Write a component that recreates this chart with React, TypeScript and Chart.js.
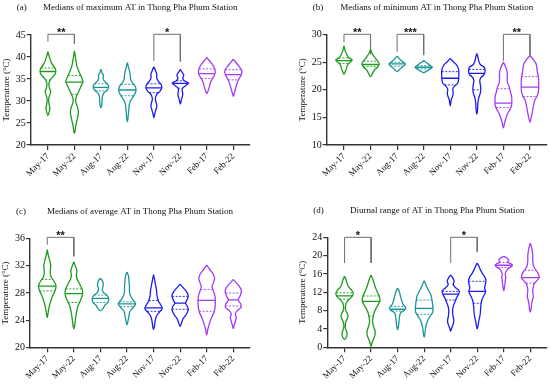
import React, { useEffect, useRef } from 'react';
import { Chart, registerables } from 'chart.js';

Chart.register(...registerables);

const categories = ['May-17', 'May-22', 'Aug-17', 'Aug-22', 'Nov-17', 'Nov-22', 'Feb-17', 'Feb-22'];
const violinColors = ['#1f9a1f', '#1f9a1f', '#1a9696', '#1a9696', '#1c1cf2', '#1c1cf2', '#a33cf7', '#a33cf7'];
const yAxisTitle = 'Temperature (°C)';

// ---- Panel (a): medians of maximum AT ----
const maxLabel = '(a)';
const maxTitle = 'Medians of maximum AT in Thong Pha Phum Station';
const maxYTicks = [20, 25, 30, 35, 40, 45];
// density profiles: [temperature, relative density], top to bottom
const maxShapes = [
  [[41.2, 0], [40, 1.5], [38.5, 4], [37.3, 7.5], [36.7, 8], [36, 7], [35, 3], [34, 1], [33, 1.5], [32.2, 2.8], [31.5, 2], [30.5, 0.8], [29.5, 1], [28.3, 2], [27.5, 1.2], [26.7, 0]],
  [[41.4, 0], [40, 1], [38, 2.5], [36.5, 5], [35, 8], [34.4, 8.7], [33.5, 7], [32, 4], [31, 2], [30, 1.2], [29, 2.5], [28, 3.8], [27.2, 4], [26, 3], [24.5, 1.5], [23, 0.5], [22.7, 0]],
  [[37.2, 0], [36.5, 1], [35.8, 2.5], [35.2, 2.2], [34.5, 3.5], [33.8, 7], [33.2, 7.8], [32.5, 6.5], [31.8, 3], [31, 1.5], [30, 1.2], [29, 0.8], [28.5, 0]],
  [[38.7, 0], [37.8, 1], [36.8, 2.2], [35.8, 3], [35, 3.2], [34.2, 5], [33.3, 8], [32.5, 8.8], [31.8, 8], [31, 6], [30, 3], [29, 1.8], [28, 1.5], [27, 1], [26, 0.6], [25.3, 0]],
  [[37.8, 0], [37, 1.5], [36, 3], [35.3, 2.8], [34.5, 4.5], [33.7, 7.5], [33, 8], [32.3, 6.5], [31.5, 3], [30.5, 1.5], [29.5, 2.5], [28.8, 3], [28, 2], [27, 0.8], [26.2, 0]],
  [[37.2, 0], [36.6, 1.5], [35.9, 3.5], [35.2, 2.5], [34.6, 4], [34.1, 8.3], [33.6, 6], [33, 2.5], [32.4, 1.8], [31.7, 2.5], [31, 2], [30.2, 1], [29.3, 0]],
  [[39.9, 0], [39.3, 2], [38.5, 5], [37.6, 7.5], [36.8, 8.5], [36, 8], [35.2, 6], [34.4, 4], [33.6, 3], [32.8, 2], [32, 0.8], [31.7, 0]],
  [[39.5, 0], [38.8, 2.5], [37.8, 6], [37, 8.5], [36.3, 8.5], [35.5, 7], [34.7, 5], [33.8, 3.5], [33, 2.5], [32, 1.2], [31, 0]],
];
// [Q1, median, Q3]
const maxStats = [
  [34.8, 36.7, 37.5], [31.5, 34.3, 35.8], [32.3, 33.1, 33.9], [31.2, 32.5, 33.8],
  [31.9, 33.0, 33.9], [32.9, 34.0, 34.6], [35.1, 36.2, 37.3], [34.8, 36.0, 37.1],
];
// [from, to, top, left leg end, right leg end, stars]
const maxBrackets = [
  [0, 1, 45.16, 43.5, 43.0, '**'],
  [4, 5, 45.16, 39.1, 39.0, '*'],
];

// ---- Panel (b): medians of minimum AT ----
const minLabel = '(b)';
const minTitle = 'Medians of minimum AT in Thong Pha Phum Station';
const minYTicks = [10, 15, 20, 25, 30];
const minShapes = [
  [[28.0, 0], [27.2, 1], [26.5, 2.5], [25.9, 4.5], [25.4, 8.3], [25.0, 6], [24.5, 3.5], [23.8, 2.5], [23.2, 1], [22.8, 0]],
  [[27.4, 0], [26.8, 1], [26.2, 3], [25.6, 5.5], [25.0, 8], [24.6, 8.7], [24.1, 7], [23.6, 4], [23.0, 2], [22.4, 0]],
  [[26.1, 0], [25.6, 2.5], [25.1, 5.5], [24.7, 8.3], [24.3, 6.5], [23.8, 3], [23.3, 0]],
  [[25.3, 0], [24.9, 3], [24.5, 6], [24.1, 8.7], [23.7, 6], [23.4, 3], [23.1, 0]],
  [[25.7, 0], [25.2, 2.5], [24.6, 6], [23.8, 8.3], [23, 8.7], [22, 8.5], [21.2, 7.5], [20.6, 4], [20.1, 2.5], [19.5, 3], [18.9, 2.5], [18.2, 1], [17.1, 0]],
  [[26.6, 0], [26, 1], [25.2, 2], [24.6, 3.5], [24.1, 7.5], [23.5, 8.3], [22.8, 7.5], [22.2, 4], [21.6, 3], [21, 3.5], [20.2, 4], [19.4, 3.5], [18.6, 2], [17.5, 1], [16.5, 0.8], [15.6, 0]],
  [[25.0, 0], [24.3, 2], [23.5, 3.5], [22.7, 4], [22, 3.8], [21.3, 4.2], [20.5, 6], [19.7, 7], [18.8, 8.3], [18, 8.5], [17.2, 8.3], [16.4, 6.5], [15.6, 4], [14.8, 2.5], [14, 1.2], [13.1, 0]],
  [[26.2, 0], [25.6, 3], [24.8, 6], [24, 7], [23.2, 7.5], [22.4, 8.5], [21.5, 8.8], [20.5, 8.8], [19.6, 8.5], [18.8, 7], [18.2, 5], [17.5, 4], [16.6, 3], [15.6, 2], [14.8, 1], [14.1, 0]],
];
const minStats = [
  [24.8, 25.3, 25.8], [24.2, 24.6, 25.2], [24.3, 24.7, 25.0], [23.8, 24.1, 24.4],
  [20.9, 22.1, 23.3], [20.0, 23.0, 23.7], [16.8, 17.6, 20.2], [18.8, 20.5, 22.4],
];
const minBrackets = [
  [0, 1, 30.07, 28.6, 26.45, '**'],
  [2, 3, 30.07, 26.9, 26.3, '***'],
  [6, 7, 30.07, 25.2, 26.2, '**'],
];

// ---- Panel (c): medians of average AT ----
const avgLabel = '(c)';
const avgTitle = 'Medians of average AT in Thong Pha Phum Station';
const avgYTicks = [20, 24, 28, 32, 36];
const avgShapes = [
  [[34.4, 0], [33.6, 1], [32.8, 2.5], [32, 3.5], [31.2, 3], [30.5, 3.5], [29.8, 6.5], [29.1, 8.8], [28.4, 8], [27.6, 5.5], [26.8, 3.5], [26, 2], [25.2, 1], [24.4, 0]],
  [[32.6, 0], [32, 1.5], [31.3, 3], [30.6, 2.5], [30, 3.5], [29.3, 6], [28.5, 8.5], [27.8, 8.8], [27, 7], [26, 4], [25, 2.5], [24, 1.5], [23.2, 0.8], [22.7, 0]],
  [[30.2, 0], [29.8, 2], [29.2, 3], [28.6, 2], [28.1, 3], [27.6, 7], [27.1, 8.3], [26.6, 7.5], [26.2, 4.5], [25.8, 3], [25.4, 0]],
  [[31.1, 0], [30.5, 1.5], [29.8, 2], [29, 2.5], [28.3, 2.5], [27.6, 3.5], [27, 6], [26.4, 8.8], [25.9, 6.5], [25.3, 3], [24.6, 2], [24, 1.2], [23.3, 0]],
  [[30.7, 0], [30, 1], [29.2, 2], [28.4, 3], [27.6, 3.5], [26.8, 5], [26.2, 7.5], [25.7, 8.8], [25.2, 6], [24.6, 3], [23.8, 1.5], [23, 0.8], [22.6, 0]],
  [[29.3, 0], [28.8, 3], [28.2, 6.5], [27.6, 8.2], [27, 7], [26.5, 5.5], [26, 7.5], [25.5, 8.2], [24.8, 6], [24.2, 3], [23.6, 1.5], [23.1, 0]],
  [[32.1, 0], [31.5, 3], [30.8, 6.5], [30.2, 8], [29.6, 7], [29, 5.5], [28.4, 6.5], [27.6, 8.3], [26.8, 8.8], [26, 8.5], [25.2, 7.5], [24.4, 5], [23.6, 3], [22.7, 1.2], [21.8, 0]],
  [[30.0, 0], [29.5, 3], [28.9, 6.5], [28.3, 8.2], [27.6, 7], [27.0, 5], [26.4, 7.5], [25.9, 8], [25.4, 4], [24.9, 2], [24.4, 3], [23.8, 2], [23.2, 0.8], [22.75, 0]],
];
const avgStats = [
  [28.3, 29.0, 30.0], [26.6, 27.9, 28.6], [26.6, 27.2, 27.7], [26.0, 26.4, 26.7],
  [25.3, 25.8, 26.9], [25.6, 26.5, 27.5], [25.3, 26.9, 28.5], [26.1, 27.0, 28.0],
];
const avgBrackets = [
  [0, 1, 36.2, 35.1, 33.4, '**'],
];

// ---- Panel (d): diurnal range of AT ----
const dtrLabel = '(d)';
const dtrTitle = 'Diurnal range of AT in Thong Pha Phum Station';
const dtrYTicks = [0, 4, 8, 12, 16, 20, 24];
const dtrShapes = [
  [[15.5, 0], [14.8, 1.5], [14, 2.5], [13.2, 4], [12.5, 7], [11.8, 8.8], [11.2, 8], [10.5, 5], [9.8, 2], [9, 1], [8.2, 1], [7.5, 2.5], [6.8, 3.5], [6.1, 2.5], [5.3, 1], [4.3, 0.8], [3.5, 2], [2.9, 2.5], [2.3, 2], [1.7, 0]],
  [[15.8, 0], [15, 1.5], [14, 3], [13, 4.5], [12, 6.5], [11, 8.5], [10.2, 9], [9.4, 7.5], [8.5, 5], [7.5, 3], [6.5, 2], [5.6, 1.5], [4.6, 2.5], [3.6, 4], [2.7, 4], [1.8, 2.5], [1, 1], [0.2, 0]],
  [[12.9, 0], [12.3, 1.5], [11.5, 2.5], [10.7, 3.5], [9.9, 4.5], [9.2, 6], [8.6, 8.3], [8.1, 7], [7.5, 3], [6.7, 2], [5.8, 1.5], [4.8, 1], [3.85, 0]],
  [[14.5, 0], [13.8, 1.5], [13, 3], [12.2, 5], [11.3, 7], [10.3, 8], [9.4, 8.5], [8.5, 9], [7.6, 8.5], [6.7, 6], [5.8, 3.5], [4.8, 2], [3.8, 1.2], [2.9, 0.7], [2.2, 0]],
  [[15.8, 0], [15.2, 2], [14.4, 3.5], [13.7, 2.5], [13, 5], [12.3, 8.7], [11.6, 8], [10.8, 6], [10, 4.5], [9.2, 3], [8.3, 2], [7.5, 2], [6.6, 2.5], [5.8, 3.2], [5, 2.5], [4.2, 1], [3.5, 0]],
  [[18.4, 0], [17.8, 1.5], [17, 3], [16.2, 5], [15.4, 7.5], [14.6, 8.8], [13.8, 8.3], [13, 7.5], [12.2, 8.5], [11.4, 7], [10.5, 5], [9.6, 4], [8.6, 3.5], [7.6, 3.2], [6.6, 2.5], [5.6, 1.5], [4.7, 0.8], [4.05, 0]],
  [[19.85, 0], [19.5, 3], [19.1, 5], [18.6, 4], [18.2, 7.5], [17.9, 8.8], [17.5, 7], [17.1, 4], [16.6, 2.5], [16, 1.5], [15.3, 2], [14.5, 1.5], [13.5, 1], [12.35, 0]],
  [[22.75, 0], [22, 1], [21, 2], [20, 2.5], [19, 2.5], [18, 3], [17.2, 4.5], [16.5, 7], [15.8, 8.5], [15.2, 9], [14.6, 7], [13.9, 4], [13.2, 3], [12.5, 2.5], [11.7, 2.8], [11, 3], [10.2, 2], [9.2, 1.2], [8.2, 0.7], [7.7, 0]],
];
const dtrStats = [
  [10.5, 11.2, 11.9], [6.8, 10.0, 11.2], [7.9, 8.3, 8.9], [7.2, 8.5, 10.3],
  [10.3, 11.6, 12.2], [9.6, 12.2, 14.4], [17.4, 17.9, 18.5], [14.0, 15.2, 16.8],
];
const dtrBrackets = [
  [0, 1, 24.0, 18.4, 18.4, '*'],
  [4, 5, 24.0, 18.4, 20.8, '*'],
];

// ---- layout (canvas geometry per panel) ----
const FONT = "'Liberation Serif', 'Times New Roman', serif";
const DENSITY_REF = 9;
const HALF_WIDTH = 0.335;

type Panel = {
  label: string; title: string; yTicks: number[]; shapes: number[][][]; stats: number[][]; brackets: any[];
  pos: [number, number]; size: [number, number]; area: { L: number; R: number; T: number; B: number };
};

const panels: Panel[] = [
  { label: maxLabel, title: maxTitle, yTicks: maxYTicks, shapes: maxShapes, stats: maxStats, brackets: maxBrackets,
    pos: [0, 0], size: [275, 193], area: { L: 30.7, R: 250, T: 35, B: 145 } },
  { label: minLabel, title: minTitle, yTicks: minYTicks, shapes: minShapes, stats: minStats, brackets: minBrackets,
    pos: [275, 0], size: [275, 193], area: { L: 51.7, R: 271.7, T: 34.7, B: 145 } },
  { label: avgLabel, title: avgTitle, yTicks: avgYTicks, shapes: avgShapes, stats: avgStats, brackets: avgBrackets,
    pos: [0, 193], size: [275, 194], area: { L: 30, R: 250, T: 45.7, B: 154.3 } },
  { label: dtrLabel, title: dtrTitle, yTicks: dtrYTicks, shapes: dtrShapes, stats: dtrStats, brackets: dtrBrackets,
    pos: [275, 193], size: [275, 194], area: { L: 52.3, R: 272, T: 44.3, B: 154.3 } },
];

function outlinePoints(i: number, shape: number[][]) {
  const pts: { x: number; y: number }[] = [];
  shape.forEach(([v, d]) => pts.push({ x: i + (d / DENSITY_REF) * HALF_WIDTH, y: v }));
  for (let k = shape.length - 2; k >= 1; k--) {
    const [v, d] = shape[k];
    pts.push({ x: i - (d / DENSITY_REF) * HALF_WIDTH, y: v });
  }
  pts.push({ x: i, y: shape[0][0] });
  return pts;
}

function widthAt(shape: number[][], v: number) {
  for (let k = 0; k < shape.length - 1; k++) {
    const [v0, d0] = shape[k];
    const [v1, d1] = shape[k + 1];
    if (v <= v0 && v >= v1) {
      const t = v0 === v1 ? 0 : (v0 - v) / (v0 - v1);
      return ((d0 + (d1 - d0) * t) / DENSITY_REF) * HALF_WIDTH;
    }
  }
  return 0;
}

function buildChart(canvas: HTMLCanvasElement, p: Panel) {
  const [cw, ch] = p.size;
  const { L, R, T, B } = p.area;
  const yW = 26;
  const datasets: any[] = [];
  p.shapes.forEach((shape, i) => {
    const c = violinColors[i];
    datasets.push({
      data: outlinePoints(i, shape), showLine: true, borderColor: c, borderWidth: 1.3,
      pointRadius: 0, tension: 0.35, fill: false,
    });
    p.stats[i].forEach((v, k) => {
      const w = widthAt(shape, v);
      datasets.push({
        data: [{ x: i - w, y: v }, { x: i + w, y: v }], showLine: true, borderColor: c,
        borderWidth: k === 1 ? 1.3 : 0.9, borderDash: k === 1 ? [] : [2, 1.5], pointRadius: 0, tension: 0,
      });
    });
  });
  p.brackets.forEach(([a, b, top, la, lb]) => {
    datasets.push({
      data: [{ x: a, y: la }, { x: a, y: top }, { x: b, y: top }, { x: b, y: lb }], showLine: true,
      borderColor: '#707070', borderWidth: 1, pointRadius: 0, tension: 0, clip: false,
    });
  });

  const textPlugin = {
    id: 'panelText',
    afterDraw(chart: any) {
      const ctx = chart.ctx;
      const a = chart.chartArea;
      const xs = chart.scales.x;
      const ys = chart.scales.y;
      ctx.save();
      ctx.fillStyle = '#111';
      ctx.font = `9px ${FONT}`;
      ctx.textBaseline = 'middle';
      ctx.textAlign = 'left';
      ctx.fillText(p.label, a.left - 14, a.top - 27);
      ctx.textAlign = 'center';
      ctx.fillText(p.title, (a.left + a.right) / 2, a.top - 27);
      ctx.save();
      ctx.translate(a.left - 24.5, (a.top + a.bottom) / 2);
      ctx.rotate(-Math.PI / 2);
      ctx.fillText(yAxisTitle, 0, 0);
      ctx.restore();
      ctx.font = `bold 11px 'Liberation Sans', Arial, sans-serif`;
      ctx.textBaseline = 'alphabetic';
      p.brackets.forEach(([from, to, top, , , stars]) => {
        const x = (xs.getPixelForValue(from) + xs.getPixelForValue(to)) / 2;
        const y = ys.getPixelForValue(top);
        ctx.fillText(stars, x, y + 1.5);
      });
      ctx.restore();
    },
  };

  return new Chart(canvas, {
    type: 'scatter',
    data: { datasets },
    plugins: [textPlugin],
    options: {
      animation: false,
      responsive: false,
      maintainAspectRatio: false,
      devicePixelRatio: 1,
      layout: { padding: { left: L - yW, top: T, right: cw - R, bottom: 0 } },
      elements: { line: { capBezierPoints: false } },
      plugins: { legend: { display: false }, tooltip: { enabled: false }, title: { display: false } },
      scales: {
        x: {
          type: 'linear', min: -0.65, max: 7.63,
          afterBuildTicks: (ax: any) => { ax.ticks = categories.map((_, i) => ({ value: i })); },
          afterFit: (s: any) => { s.height = ch - B; },
          ticks: {
            autoSkip: false, minRotation: 45, maxRotation: 45, padding: 1, color: '#111',
            font: { family: FONT, size: 9 },
            callback: (v: any) => categories[v],
          },
          grid: { display: true, drawOnChartArea: false, drawTicks: true, tickLength: 5, color: '#333', lineWidth: 1.2 },
          border: { display: true, color: '#333', width: 1.4 },
        },
        y: {
          type: 'linear', min: p.yTicks[0], max: p.yTicks[p.yTicks.length - 1],
          afterBuildTicks: (ax: any) => { ax.ticks = p.yTicks.map((v) => ({ value: v })); },
          afterFit: (s: any) => { s.width = yW; },
          ticks: { padding: 1, color: '#111', font: { family: FONT, size: 10 } },
          grid: { display: true, drawOnChartArea: false, drawTicks: true, tickLength: 4, color: '#333', lineWidth: 1.2 },
          border: { display: true, color: '#333', width: 1.4 },
        },
      },
    } as any,
  });
}

function PanelChart({ p }: { p: Panel }) {
  const ref = useRef<HTMLCanvasElement>(null);
  useEffect(() => {
    if (!ref.current) return;
    const chart = buildChart(ref.current, p);
    return () => chart.destroy();
  }, [p]);
  return (
    <canvas
      ref={ref}
      width={p.size[0]}
      height={p.size[1]}
      style={{ position: 'absolute', left: p.pos[0], top: p.pos[1], width: p.size[0], height: p.size[1] }}
    />
  );
}

export default function App() {
  return (
    <div style={{ position: 'fixed', left: 0, top: 0, width: 550, height: 387, background: '#fff' }}>
      {panels.map((p, i) => (
        <PanelChart key={i} p={p} />
      ))}
    </div>
  );
}
